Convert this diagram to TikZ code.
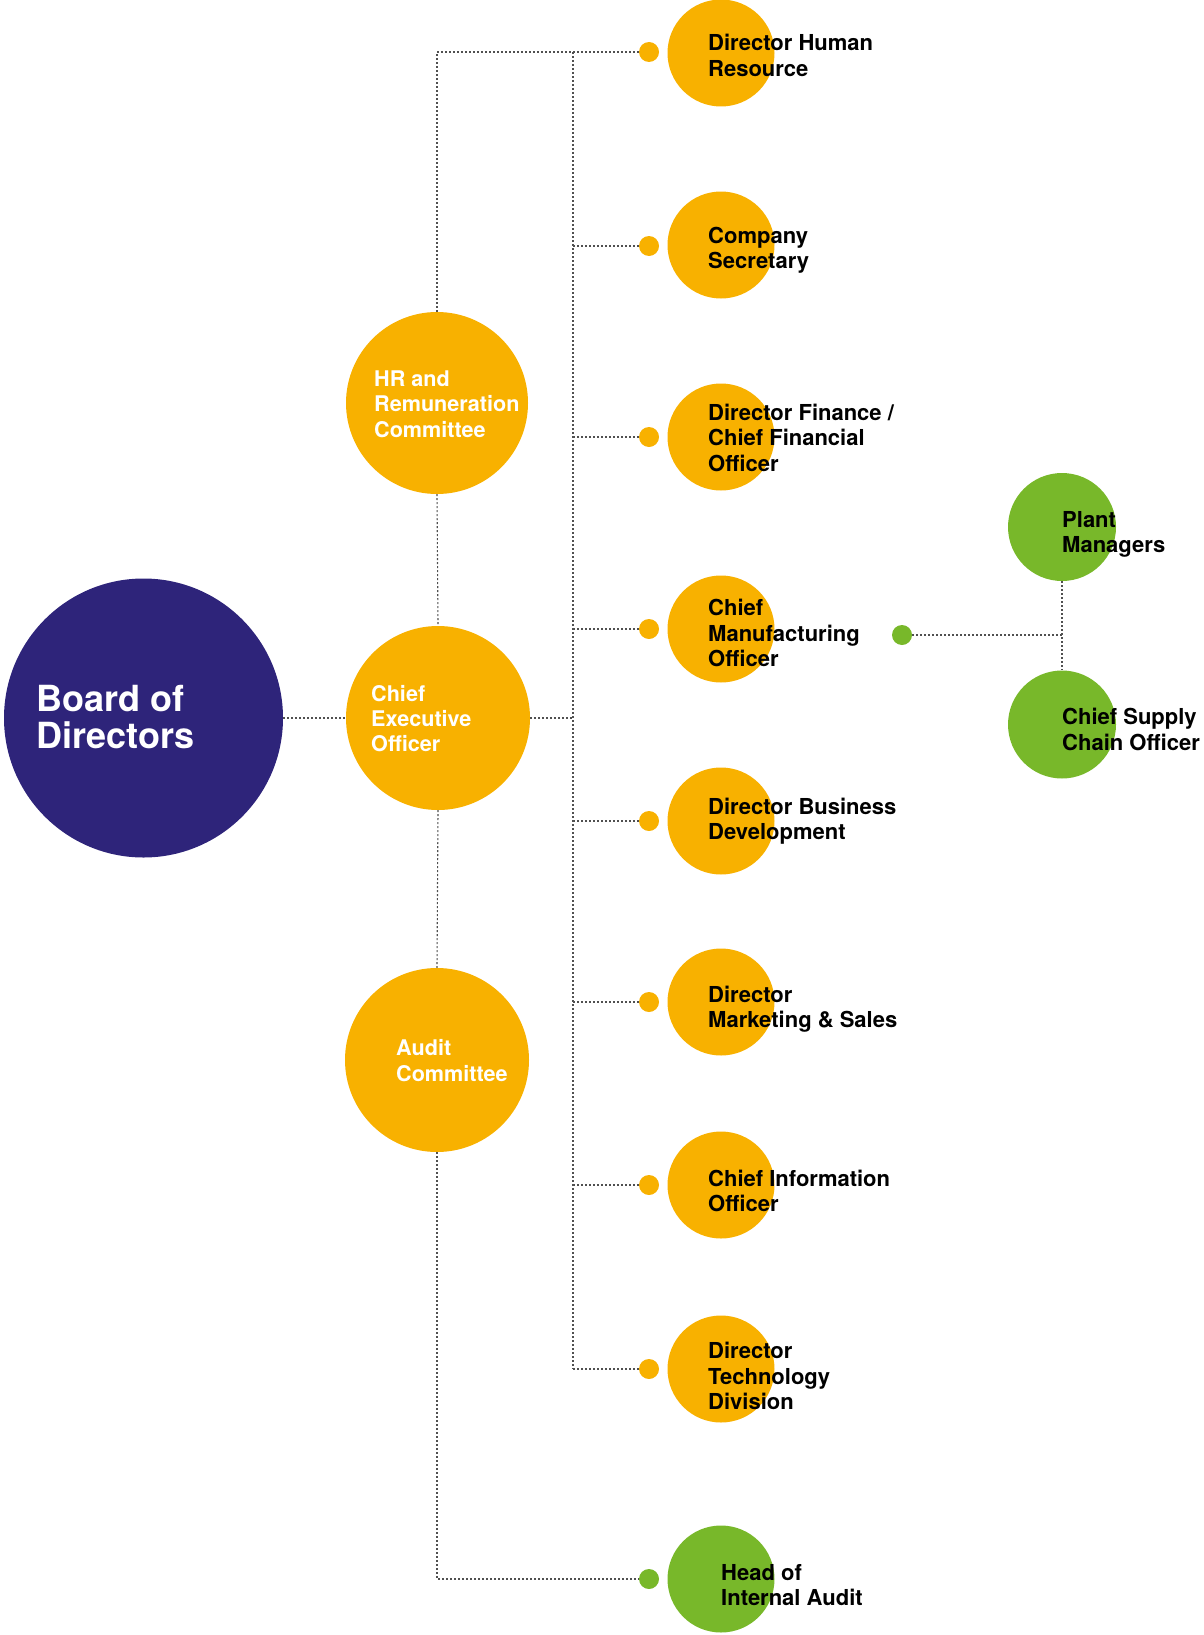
\documentclass[tikz,border=0pt]{standalone}
\usepackage{fontspec}
\setmainfont{TeX Gyre Heros}
\definecolor{orangeC}{HTML}{F8B100}
\definecolor{purpleC}{HTML}{2E247A}
\definecolor{greenC}{HTML}{78B82A}
\definecolor{lineC}{HTML}{505050}
\begin{document}
\begin{tikzpicture}[x=1pt,y=-1pt,
  bubble/.style={circle,inner sep=0pt,minimum size=#1},
  orangeb/.style={bubble=#1,fill=orangeC},
  greenb/.style={bubble=#1,fill=greenC},
  dotb/.style={circle,inner sep=0pt,minimum size=20pt,fill=#1},
  conn/.style={draw=lineC,line width=1.1pt,dash pattern=on 2pt off 2pt},
  lbl/.style={anchor=west,align=left,inner sep=0pt,font=\bfseries\fontsize{22}{25.3}\selectfont},
  wlbl/.style={lbl,text=white,font=\bfseries\fontsize{21.6}{25.3}\selectfont}]
\useasboundingbox (0,0) rectangle (1203,1635);

% main circles
\node[bubble=279pt,fill=purpleC] (board) at (143.5,718) {};
\node[orangeb=182pt] (hr) at (437,403) {};
\node[orangeb=184pt] (ceo) at (438,718) {};
\node[orangeb=184pt] (audit) at (437,1060) {};

% right column
\node[orangeb=107pt] (cHR) at (721,53) {};
\node[orangeb=107pt] (cCS) at (721,245) {};
\node[orangeb=107pt] (cDF) at (721,437) {};
\node[orangeb=107pt] (cCMO) at (721,629) {};
\node[orangeb=107pt] (cDBD) at (721,821) {};
\node[orangeb=107pt] (cDMS) at (721,1002) {};
\node[orangeb=107pt] (cCIO) at (721,1185) {};
\node[orangeb=107pt] (cDTD) at (721,1369) {};
\node[greenb=107pt] (cHIA) at (721,1579) {};

\node[greenb=108pt] (pm) at (1062,527) {};
\node[greenb=108pt] (csco) at (1062,724.5) {};

% dots
\node[dotb=orangeC] (dHR) at (649,52) {};
\node[dotb=orangeC] (dCS) at (649,246) {};
\node[dotb=orangeC] (dDF) at (649,437) {};
\node[dotb=orangeC] (dCMO) at (649,629) {};
\node[dotb=orangeC] (dDBD) at (649,821) {};
\node[dotb=orangeC] (dDMS) at (649,1002) {};
\node[dotb=orangeC] (dCIO) at (649,1185) {};
\node[dotb=orangeC] (dDTD) at (649,1369) {};
\node[dotb=greenC] (dHIA) at (649,1579) {};
\node[dotb=greenC] (dSC) at (902,635) {};

% coordinates
\coordinate (tl) at (437,52);
\coordinate (tr) at (573,52);
\coordinate (tb) at (573,1369);
\coordinate (bl) at (437,1579);

% connectors
\draw[conn] (board) -- (ceo);
\draw[conn] (hr.north) -- (tl) -- (dHR);
\draw[conn] (hr.south) -- (ceo.north);
\draw[conn] (ceo.south) -- (audit.north);
\draw[conn] (audit.south) -- (bl) -- (dHIA);
\draw[conn] (tr) -- (tb);
\draw[conn] (ceo) -- (ceo -| tr);
\foreach \d in {dCS,dDF,dCMO,dDBD,dDMS,dCIO,dDTD}
  \draw[conn] (tr |- \d) -- (\d);
\draw[conn] (dSC) -- (dSC -| pm);
\draw[conn] (pm) -- (csco);

% labels
\node[wlbl,font=\bfseries\fontsize{36}{37.5}\selectfont] (tBoard) at (36.5,717) {Board of\\Directors};
\node[wlbl] (tHR) at (374,404) {HR and\\Remuneration\\Committee};
\node[wlbl] (tCEO) at (371,718.5) {Chief\\Executive\\Officer};
\node[wlbl] (tAudit) at (396,1060.7) {Audit\\Committee};

\node[lbl] (tDHR) at (708,55.5) {Director Human\\Resource};
\node[lbl] (tCS) at (708,250.1) {Company\\Secretary};
\node[lbl] (tDF) at (708,437.8) {Director Finance /\\Chief Financial\\Officer};
\node[lbl] (tCMO) at (708,633.2) {Chief\\Manufacturing\\Officer};
\node[lbl] (tDBD) at (708,821.4) {Director Business\\Development};
\node[lbl] (tDMS) at (708,1009.1) {Director\\Marketing \& Sales};
\node[lbl] (tCIO) at (708,1190.8) {Chief Information\\Officer};
\node[lbl] (tDTD) at (708,1376.1) {Director\\Technology\\Division};
\node[lbl] (tHIA) at (721,1584.8) {Head of\\Internal Audit};
\node[lbl] (tPM) at (1062,534.7) {Plant\\Managers};
\node[lbl] (tCSCO) at (1062,729.5) {Chief Supply\\Chain Officer};
\end{tikzpicture}
\end{document}
